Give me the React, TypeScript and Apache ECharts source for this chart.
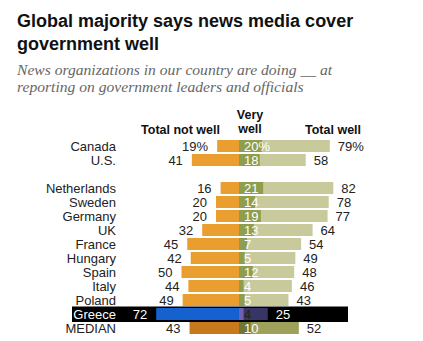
import React, { useEffect, useRef } from "react";
import * as echarts from "echarts";

const categories = ["Canada", "U.S.", "", "Netherlands", "Sweden", "Germany", "UK", "France", "Hungary", "Spain", "Italy", "Poland", "Greece", "MEDIAN"];
const notWell = [19, 41, null, 16, 20, 20, 32, 45, 42, 50, 44, 49, 72, 43];
const veryWell = [20, 18, null, 21, 14, 19, 13, 7, 5, 12, 4, 5, 4, 10];
const totalWell = [79, 58, null, 82, 78, 77, 64, 54, 49, 48, 46, 43, 25, 52];

const HIGHLIGHT = "Greece";
const MEDIAN = "MEDIAN";

const C = {
  not: "#EA9E2F",
  very: "#8F9E4C",
  total: "#C8CA9C",
  notMed: "#C77A1C",
  veryMed: "#6E7736",
  totalMed: "#9DA15B",
  notHi: "#1561D0",
  veryHi: "#6F60B1",
  totalHi: "#373563",
};

const SANS = "'Liberation Sans', Arial, sans-serif";

export default function App() {
  const ref = useRef<HTMLDivElement>(null);
  useEffect(() => {
    if (!ref.current) return;
    const chart = echarts.init(ref.current, null, { renderer: "svg" });
    const pct = (i: number, v: number) => (i === 0 ? v + "%" : String(v));
    const colorFor = (name: string, kind: "not" | "very" | "total") =>
      name === HIGHLIGHT ? (C as any)[kind + "Hi"] : name === MEDIAN ? (C as any)[kind + "Med"] : (C as any)[kind];
    const txt = (name: string) => (name === HIGHLIGHT ? "#ffffff" : "#222222");

    const buildGraphic = (hiY: number | null) => {
      const g: any[] = [
        {
          type: "text",
          x: 17,
          y: 9,
          style: {
            text: "Global majority says news media cover\ngovernment well",
            fontFamily: SANS,
            fontWeight: "bold",
            fontSize: 18,
            lineHeight: 23,
            fill: "#111",
            align: "left",
            verticalAlign: "top",
          },
        },
        {
          type: "text",
          x: 17,
          y: 61,
          style: {
            text: "News organizations in our country are doing __ at\nreporting on government leaders and officials",
            fontFamily: "'Liberation Serif', 'Times New Roman', serif",
            fontStyle: "italic",
            fontSize: 15.6,
            lineHeight: 17,
            fill: "#666",
            align: "left",
            verticalAlign: "top",
          },
        },
        {
          type: "text",
          x: 220,
          y: 129.5,
          style: { text: "Total not well", fontFamily: SANS, fontWeight: "bold", fontSize: 12.5, fill: "#111", align: "right", verticalAlign: "middle" },
        },
        {
          type: "text",
          x: 250,
          y: 122,
          style: { text: "Very\nwell", fontFamily: SANS, fontWeight: "bold", fontSize: 12.5, lineHeight: 14, fill: "#111", align: "center", verticalAlign: "middle" },
        },
        {
          type: "text",
          x: 305,
          y: 129.5,
          style: { text: "Total well", fontFamily: SANS, fontWeight: "bold", fontSize: 12.5, fill: "#111", align: "left", verticalAlign: "middle" },
        },
      ];
      if (hiY != null) {
        g.push({
          type: "rect",
          z: -1,
          shape: { x: 72, y: hiY - 7.5, width: 276, height: 15.5 },
          style: { fill: "#000" },
        });
      }
      return g;
    };

    const option: any = {
      animation: false,
      grid: { left: 124, right: 69, top: 139, bottom: 6, containLabel: false },
      xAxis: { type: "value", min: -100, max: 100, show: false },
      yAxis: {
        type: "category",
        inverse: true,
        data: categories.map((c) => ({ value: c, textStyle: { color: txt(c) } })),
        axisLine: { show: false },
        axisTick: { show: false },
        splitLine: { show: false },
        axisLabel: { interval: 0, fontFamily: SANS, fontSize: 13, color: "#222", margin: 8 },
      },
      series: [
        {
          name: "Total not well",
          type: "bar",
          barWidth: 12,
          barGap: "-100%",
          data: notWell.map((v, i) =>
            v == null
              ? "-"
              : {
                  value: -v,
                  itemStyle: { color: colorFor(categories[i], "not") },
                  label: { color: txt(categories[i]) },
                }
          ),
          label: {
            show: true,
            position: "left",
            distance: 9,
            fontFamily: SANS,
            fontSize: 13,
            formatter: (p: any) => pct(p.dataIndex, Math.abs(p.value)),
          },
        },
        {
          name: "Total well",
          type: "bar",
          barWidth: 12,
          barGap: "-100%",
          data: totalWell.map((v, i) =>
            v == null
              ? "-"
              : {
                  value: v,
                  itemStyle: { color: colorFor(categories[i], "total") },
                  label: { color: txt(categories[i]) },
                }
          ),
          label: {
            show: true,
            position: "right",
            distance: 8,
            fontFamily: SANS,
            fontSize: 13,
            formatter: (p: any) => pct(p.dataIndex, p.value),
          },
        },
        {
          name: "Very well",
          type: "bar",
          barWidth: 12,
          barGap: "-100%",
          data: veryWell.map((v, i) =>
            v == null
              ? "-"
              : {
                  value: v,
                  itemStyle: { color: colorFor(categories[i], "very") },
                  label: { color: categories[i] === HIGHLIGHT ? "#222" : "#ffffff" },
                }
          ),
          label: {
            show: true,
            position: "insideLeft",
            distance: 5,
            fontFamily: SANS,
            fontSize: 13,
            formatter: (p: any) => pct(p.dataIndex, p.value),
          },
        },
      ],
      graphic: buildGraphic(null),
    };
    chart.setOption(option);
    const hiY = chart.convertToPixel({ yAxisIndex: 0 }, HIGHLIGHT) as number;
    option.graphic = buildGraphic(hiY);
    chart.setOption(option, true);
    return () => chart.dispose();
  }, []);
  return <div ref={ref} style={{ position: "absolute", left: 0, top: 0, width: 423, height: 341, background: "#fff" }} />;
}
